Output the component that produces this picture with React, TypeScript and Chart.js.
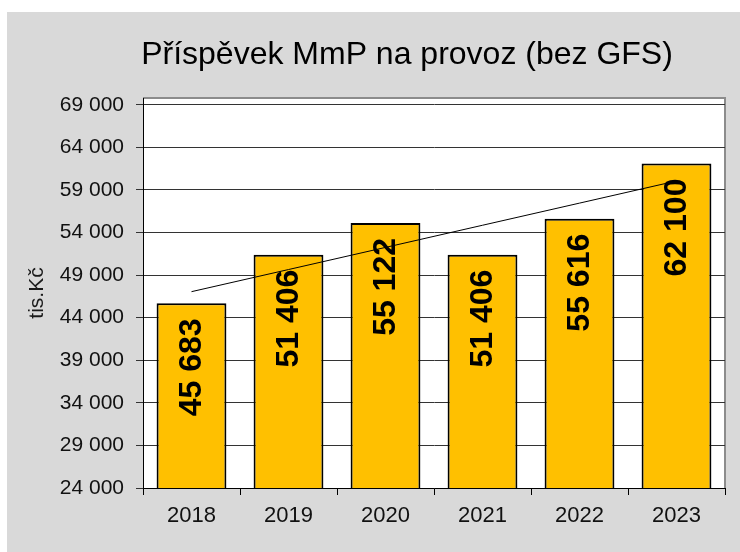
import React, { useEffect, useRef } from "react";
import { Chart, registerables } from "chart.js";

Chart.register(...registerables);

const categories = ["2018", "2019", "2020", "2021", "2022", "2023"];
const values = [45683, 51406, 55122, 51406, 55616, 62100];
const trendValues = [47056, 49656, 52256, 54856, 57456, 60056];
const yTickValues = [24000, 29000, 34000, 39000, 44000, 49000, 54000, 59000, 64000, 69000];
const titleText = "Příspěvek MmP na provoz (bez GFS)";
const yAxisTitle = "tis.Kč";

const FONT = "'Liberation Sans', Arial, sans-serif";

const fmt = (v: number) => {
  const s = Math.round(v).toString();
  return s.replace(/\B(?=(\d{3})+(?!\d))/g, " ");
};

const decorPlugin = {
  id: "decor",
  beforeDraw(chart: any) {
    const { ctx, chartArea: a } = chart;
    ctx.save();
    ctx.fillStyle = "#ffffff";
    ctx.fillRect(0, 0, chart.width, chart.height);
    ctx.fillStyle = "#d9d9d9";
    ctx.fillRect(7, 12, chart.width - 7, chart.height - 12);
    ctx.fillStyle = "#ffffff";
    ctx.fillRect(a.left, a.top, a.right - a.left, a.bottom - a.top);
    ctx.strokeStyle = "#8c8c8c";
    ctx.lineWidth = 2;
    ctx.beginPath();
    ctx.moveTo(a.left, a.top);
    ctx.lineTo(a.right, a.top);
    ctx.lineTo(a.right, a.bottom);
    ctx.stroke();
    // title
    ctx.fillStyle = "#000";
    ctx.font = `32px ${FONT}`;
    ctx.textAlign = "center";
    ctx.textBaseline = "middle";
    ctx.fillText(titleText, 407, 55);
    // y axis title
    ctx.translate(37, 293);
    ctx.rotate(-Math.PI / 2);
    ctx.font = `21px ${FONT}`;
    ctx.fillStyle = "#1a1a1a";
    ctx.fillText(yAxisTitle, 0, 0);
    ctx.restore();
  },
  afterDatasetsDraw(chart: any) {
    const { ctx } = chart;
    const meta = chart.getDatasetMeta(0);
    ctx.save();
    ctx.fillStyle = "#000";
    ctx.font = `bold 32px ${FONT}`;
    ctx.textAlign = "right";
    ctx.textBaseline = "middle";
    meta.data.forEach((bar: any, i: number) => {
      ctx.save();
      ctx.translate(bar.x, bar.y + 15);
      ctx.rotate(-Math.PI / 2);
      ctx.fillText(fmt(values[i]), 0, 1);
      ctx.restore();
    });
    ctx.restore();
  },
};

export default function App() {
  const ref = useRef<HTMLCanvasElement | null>(null);
  useEffect(() => {
    if (!ref.current) return;
    const chart = new Chart(ref.current, {
      type: "bar",
      data: {
        labels: categories,
        datasets: [
          {
            type: "bar",
            label: "Příspěvek",
            data: values,
            backgroundColor: "#FFC000",
            borderColor: "#000000",
            borderWidth: 2,
            borderSkipped: false,
            barPercentage: 0.72,
            categoryPercentage: 1,
            order: 2,
          },
          {
            type: "line",
            label: "Trend",
            data: trendValues,
            borderColor: "#000000",
            borderWidth: 1,
            pointRadius: 0,
            fill: false,
            order: 1,
          } as any,
        ],
      },
      options: {
        responsive: false,
        animation: false,
        layout: { padding: { left: 0, top: 98, right: 15, bottom: 0 } },
        plugins: {
          legend: { display: false },
          title: { display: false },
          tooltip: { enabled: false },
        },
        scales: {
          x: {
            grid: {
              offset: true,
              drawOnChartArea: false,
              drawTicks: true,
              tickLength: 7,
              color: "#000",
            },
            border: { display: true, color: "#000", width: 1 },
            ticks: {
              color: "#111",
              font: { family: FONT, size: 22 },
              padding: 8,
              maxRotation: 0,
            },
            afterFit(scale: any) {
              scale.height = 64;
            },
          },
          y: {
            min: 24000,
            max: 69800,
            afterBuildTicks(axis: any) {
              axis.ticks = yTickValues.map((v) => ({ value: v }));
            },
            grid: {
              color: "#333",
              lineWidth: 1,
              drawTicks: true,
              tickLength: 7,
            },
            border: { display: true, color: "#000", width: 1 },
            ticks: {
              color: "#111",
              font: { family: FONT, size: 21 },
              padding: 12,
              callback: (v: any) => fmt(Number(v)),
            },
            afterFit(scale: any) {
              scale.width = 143;
            },
          },
        },
      },
      plugins: [decorPlugin],
    });
    return () => chart.destroy();
  }, []);
  return (
    <div style={{ position: "fixed", left: 0, top: 0, width: 740, height: 552 }}>
      <canvas ref={ref} width={740} height={552} style={{ width: 740, height: 552, display: "block" }} />
    </div>
  );
}
